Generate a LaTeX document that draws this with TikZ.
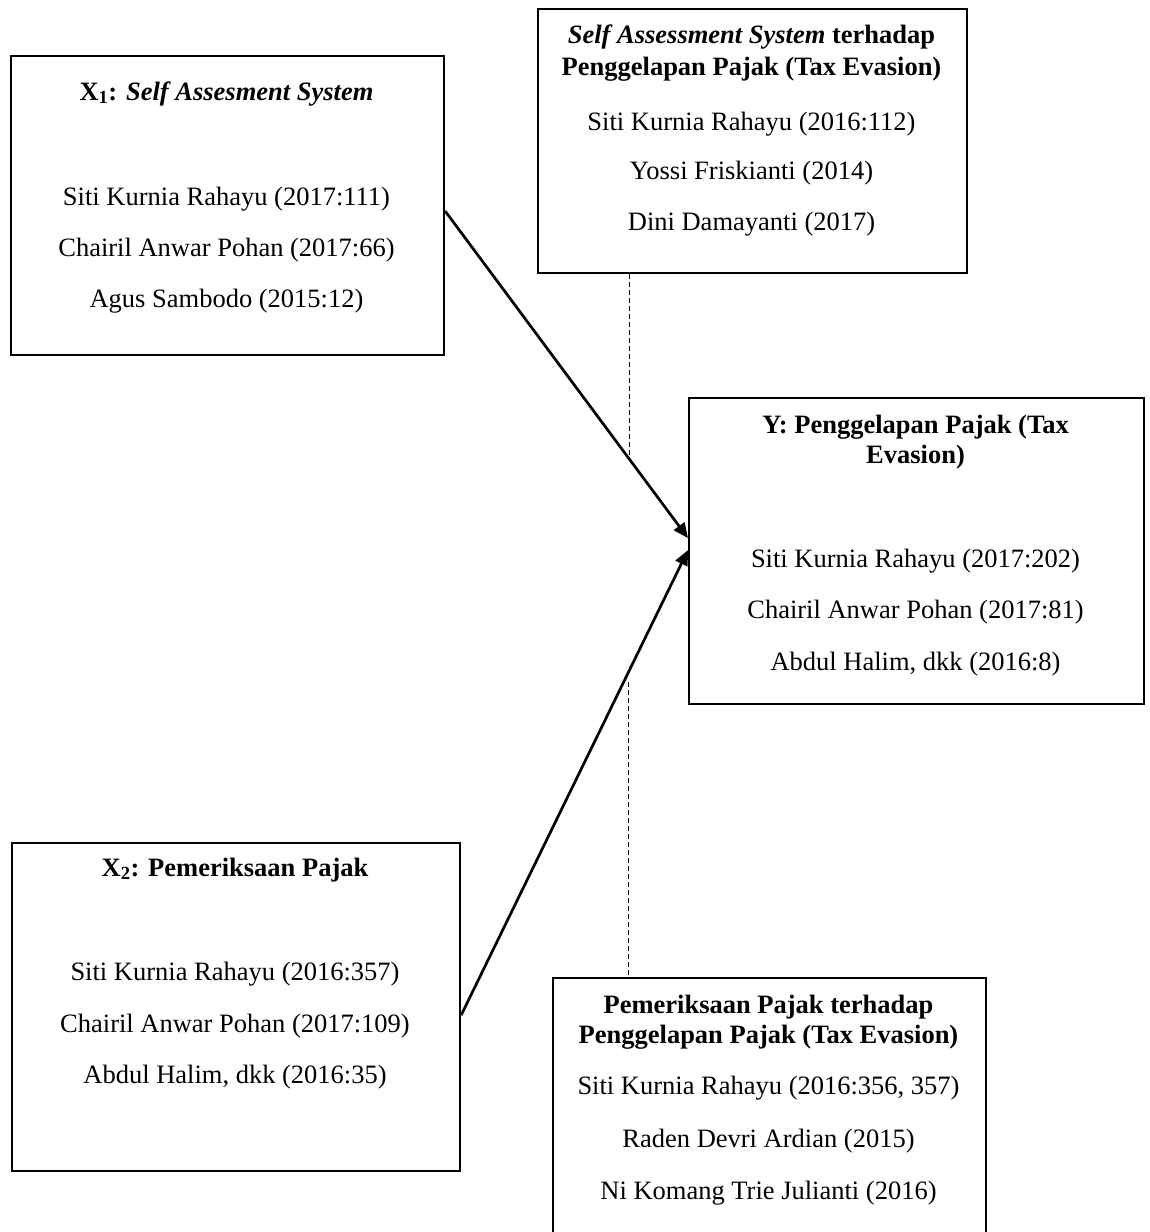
\documentclass[tikz,border=0pt]{standalone}
\usepackage{fontspec}
\setmainfont{Liberation Serif}
\usetikzlibrary{arrows.meta,calc}
\begin{document}
\begin{tikzpicture}[x=1pt,y=-1pt,
  box/.style={draw, line width=2.2pt, rectangle, anchor=north west, inner sep=0pt},
  txt/.style={anchor=base, inner sep=0pt, font=\fontsize{26.5}{30.5}\selectfont},
  ttl/.style={anchor=base, inner sep=0pt, font=\fontsize{26.5}{30.5}\selectfont\bfseries},
  link/.style={line width=2.7pt, -{Triangle[length=15pt,width=13pt]}},
  guide/.style={line width=1pt, dash pattern=on 5pt off 3pt}
]
\useasboundingbox (0,0) rectangle (1149,1232);
\fill[white] (0,0) rectangle (1149,1232);

% boxes
\node[box, minimum width=433pt, minimum height=299pt] (x1) at (10,55) {};
\node[box, minimum width=429pt, minimum height=264pt] (h1) at (537,8) {};
\node[box, minimum width=455pt, minimum height=306pt] (y) at (688,397) {};
\node[box, minimum width=448pt, minimum height=328pt] (x2) at (11,842) {};
\node[box, minimum width=433pt, minimum height=290pt] (h2) at (552,977) {};

% X1 texts
\node[ttl] (x1a) at (226.5,100) {X\textsubscript{1}: \textit{Self Assesment System}};
\node[txt] (x1b) at (226.5,205) {Siti Kurnia Rahayu (2017:111)};
\node[txt] (x1c) at (226.5,256) {Chairil Anwar Pohan (2017:66)};
\node[txt] (x1d) at (226.5,307) {Agus Sambodo (2015:12)};

% H1 texts
\node[ttl] (h1a) at (751.5,43) {\textit{Self Assessment System} terhadap};
\node[ttl] (h1b) at (751.5,75) {Penggelapan Pajak (Tax Evasion)};
\node[txt] (h1c) at (751.5,130) {Siti Kurnia Rahayu (2016:112)};
\node[txt] (h1d) at (751.5,179) {Yossi Friskianti (2014)};
\node[txt] (h1e) at (751.5,230) {Dini Damayanti (2017)};

% Y texts
\node[ttl] (ya) at (915.5,433) {Y: Penggelapan Pajak (Tax};
\node[ttl] (yb) at (915.5,463) {Evasion)};
\node[txt] (yc) at (915.5,567) {Siti Kurnia Rahayu (2017:202)};
\node[txt] (yd) at (915.5,618) {Chairil Anwar Pohan (2017:81)};
\node[txt] (ye) at (915.5,670) {Abdul Halim, dkk (2016:8)};

% X2 texts
\node[ttl] (x2a) at (235,876) {X\textsubscript{2}: Pemeriksaan Pajak};
\node[txt] (x2b) at (235,980) {Siti Kurnia Rahayu (2016:357)};
\node[txt] (x2c) at (235,1032) {Chairil Anwar Pohan (2017:109)};
\node[txt] (x2d) at (235,1083) {Abdul Halim, dkk (2016:35)};

% H2 texts
\node[ttl] (h2a) at (768.5,1013) {Pemeriksaan Pajak terhadap};
\node[ttl] (h2b) at (768.5,1043) {Penggelapan Pajak (Tax Evasion)};
\node[txt] (h2c) at (768.5,1094) {Siti Kurnia Rahayu (2016:356, 357)};
\node[txt] (h2d) at (768.5,1147) {Raden Devri Ardian (2015)};
\node[txt] (h2e) at (768.5,1199) {Ni Komang Trie Julianti (2016)};

% arrows
\draw[link] ([yshift=-5.5pt]x1.east) -- ([yshift=13pt]y.west)
  coordinate[pos=0.758] (m1);
\draw[link] ([yshift=-8pt]x2.east) -- ([yshift=1pt]y.west)
  coordinate[pos=0.738] (m2);

% dashed guides
\draw[guide] (h1.south -| m1) -- (m1);
\draw[guide] ([yshift=-10pt]m2) -- (h2.north -| m2);
\end{tikzpicture}
\end{document}
